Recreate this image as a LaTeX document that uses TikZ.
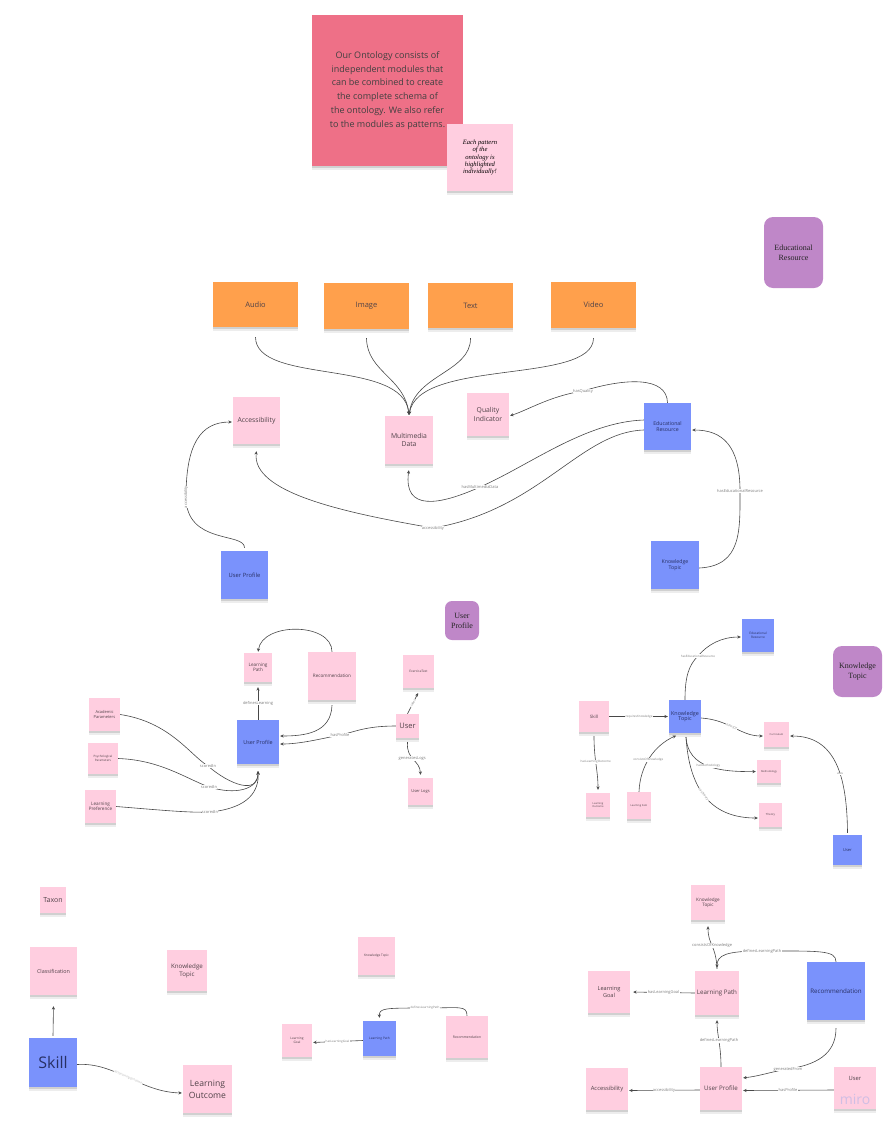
\documentclass[tikz,border=0pt]{standalone}
\usepackage{fontspec}
\setmainfont{Open Sans}
\newfontfamily\serifx{Liberation Serif}
\usetikzlibrary{arrows.meta,shadows}

\definecolor{notepink}{RGB}{255,206,224}
\definecolor{noteblue}{RGB}{122,146,252}
\definecolor{noteorange}{RGB}{255,160,76}
\definecolor{notered}{RGB}{238,112,135}
\definecolor{tagpurple}{RGB}{191,135,200}
\definecolor{inktext}{RGB}{80,66,72}
\definecolor{inkblue}{RGB}{40,48,100}
\definecolor{wire}{RGB}{72,72,72}
\definecolor{wiretext}{RGB}{125,125,125}
\definecolor{wmark}{RGB}{208,190,228}

\newcommand{\fsz}[2]{\fontsize{#1}{#2}\selectfont}

\tikzset{
  sticky/.style={rectangle, inner sep=1pt, align=center, text=inktext,
    drop shadow={shadow xshift=0pt, shadow yshift=-3.5pt, opacity=0.07, fill=black},
    drop shadow={shadow xshift=0pt, shadow yshift=-2pt, opacity=0.12, fill=black}},
  pk/.style={sticky, fill=notepink},
  bl/.style={sticky, fill=noteblue, text=inkblue},
  og/.style={sticky, fill=noteorange, text=inktext},
  sz/.style={minimum width=#1pt, minimum height=#1pt},
  wh/.style 2 args={minimum width=#1pt, minimum height=#2pt},
  tagbox/.style={rectangle, rounded corners=9pt, fill=tagpurple, align=center,
    text=black!85, font={\serifx\fsz{8}{10}}},
  conn/.style={draw=wire, line width=0.6pt, shorten >=1pt,
    -{Stealth[length=3.4pt,width=3.2pt]}},
  lbl/.style={fill=white, inner sep=0.4pt, text=wiretext, font={\fsz{4}{5}}},
  tiny/.style={lbl, font={\fsz{3}{4}}}
}

\begin{document}
\begin{tikzpicture}[x=1pt,y=-1pt]
\useasboundingbox (0,0) rectangle (891,1122);

% ---------- introduction notes ----------
\node[sticky, fill=notered, wh={151}{151}, text=black!75, font={\fsz{9}{13.8}}] (intro) at (387.5,90.5)
  {Our Ontology consists of\\independent modules that\\can be combined to create\\the complete schema of\\the ontology. We also refer\\to the modules as patterns.};
\node[pk, wh={66}{67}, text=black, font={\serifx\itshape\fsz{6.6}{7.4}}] (hint) at (480,157.5)
  {Each pattern\\of the\\ontology is\\highlighted\\individually!};

% ---------- Educational Resource pattern ----------
\node[tagbox, wh={59}{71}] (tagER) at (793.5,252.5) {Educational\\Resource};

\node[og, wh={85}{45}, font={\fsz{7.5}{9}}] (audio) at (255.5,304.5) {Audio};
\node[og, wh={85}{46}, font={\fsz{7.5}{9}}] (image) at (366.5,306) {Image};
\node[og, wh={85}{45}, font={\fsz{7.5}{9}}] (text)  at (470.5,305.5) {Text};
\node[og, wh={85}{46}, font={\fsz{7.5}{9}}] (video) at (593.5,305) {Video};

\node[pk, sz=47, font={\fsz{6.8}{8.5}}] (accA) at (256.5,420.5) {Accessibility};
\node[pk, sz=48, font={\fsz{6.8}{8.5}}] (mmd) at (409,440) {Multimedia\\Data};
\node[pk, wh={42}{43}, font={\fsz{6.8}{8.5}}] (quality) at (488,414.5) {Quality\\Indicator};
\node[bl, sz=47, font={\fsz{5.2}{6.3}}] (erA) at (667.5,426.5) {Educational\\Resource};
\node[bl, sz=48, font={\fsz{5.2}{6.3}}] (ktA) at (675,565) {Knowledge\\Topic};
\node[bl, wh={47}{48}, font={\fsz{5.8}{7}}] (upA) at (244.5,575) {User Profile};

\draw[conn] ([yshift=-10pt]audio.south) .. controls (256,385) and (404,358) .. (mmd.north);
\draw[conn] ([yshift=-9pt]image.south) .. controls (367,372) and (405,378) .. (mmd.north);
\draw[conn] ([yshift=-10pt]text.south) .. controls (471,372) and (414,375) .. (mmd.north);
\draw[conn] ([yshift=-10pt]video.south) .. controls (593,385) and (418,358) .. (mmd.north);

\draw[conn] (erA.north) .. controls (667,376) and (625,378) .. (583,391) node[lbl] (lq) {hasQuality}
  .. controls (550,396) and (528,410) .. ([yshift=-1.5pt]quality.east);
\draw[conn] ([yshift=6.5pt]erA.west) .. controls (585,422) and (530,465) .. (480,487)
  node[lbl] (lmd) {hasMultimediaData}
  .. controls (440,505) and (403,512) .. ([yshift=-5pt]mmd.south);
\draw[conn] ([yshift=-3.5pt]erA.west) .. controls (580,432) and (540,510) .. (433,528)
  node[lbl] (lacc1) {accessibility}
  .. controls (340,512) and (252,492) .. ([yshift=-6pt]accA.south);
\draw[conn] ([yshift=-3pt]ktA.east) .. controls (742,566) and (740,530) .. (740,491)
  node[lbl] (lher) {hasEducationalResource}
  .. controls (740,445) and (722,430) .. ([yshift=-3.5pt]erA.east);
\draw[conn] ([yshift=3pt]upA.north) .. controls (245,532) and (186,545) .. (186,497)
  node[lbl, rotate=90] (lacc2) {accessibility}
  .. controls (186,445) and (200,422) .. ([yshift=-1.5pt]accA.west);

% ---------- User Profile pattern ----------
\node[tagbox, wh={34}{39}, rounded corners=7pt] (tagUP) at (462,620.5) {User\\Profile};

\node[pk, wh={28}{29}, font={\fsz{4.6}{5.6}}] (lpB) at (258,667.5) {Learning\\Path};
\node[pk, sz=48, font={\fsz{4.6}{5.6}}] (recB) at (332,676) {Recommendation};
\node[pk, wh={31}{33}, font={\fsz{3.2}{4}}] (exB) at (418.5,671.5) {ExerciseTest};
\node[pk, wh={23}{24}, font={\fsz{7.5}{9}}] (userB) at (407.5,726) {User};
\node[bl, wh={42}{44}, font={\fsz{5.4}{6.5}}] (upB) at (258,742) {User Profile};
\node[pk, wh={25}{27}, font={\fsz{4}{5}}] (logsB) at (420.5,791.5) {User Logs};
\node[pk, wh={31}{33}, font={\fsz{4}{4.8}}] (acadB) at (104.5,714.5) {Academic\\Parameters};
\node[pk, wh={30}{31}, font={\fsz{3}{3.8}}] (psyB) at (103,758.5) {Psychological\\Parameters};
\node[pk, wh={31}{33}, font={\fsz{4.6}{5.6}}] (prefB) at (100.5,806.5) {Learning\\Preference};

\draw[conn] (recB.north) .. controls (332,622) and (262,622) .. (lpB.north);
\draw[conn] (upB.north) -- node[lbl] (ldl) {definesLearning} ([yshift=-4pt]lpB.south);
\draw[conn] ([yshift=-5pt]recB.south) .. controls (331,733) and (305,736) .. ([yshift=6pt]upB.east);
\draw[conn] (userB.west) .. controls (365,726) and (355,732) .. (340,735) node[lbl] (lhp) {hasProfile}
  .. controls (320,739) and (300,744) .. ([yshift=-2pt]upB.east);
\draw[conn] (userB.north) -- node[tiny, sloped] (ltk) {takes} ([yshift=-4pt]exB.south);
\draw[conn] ([yshift=-4pt]userB.south) .. controls (406,760) and (420,760) ..
  node[lbl, pos=0.45] (lgl) {generatesLogs} ([yshift=2pt]logsB.north);
\draw[conn] (acadB.east) .. controls (170,722) and (190,755) .. (208,766) node[lbl] (ls1) {scoredIn}
  .. controls (230,785) and (258,795) .. ([yshift=-6pt]upB.south);
\draw[conn] (psyB.east) .. controls (160,760) and (185,778) .. (209,787) node[lbl] (ls2) {scoredIn}
  .. controls (235,795) and (258,790) .. ([yshift=-6pt]upB.south);
\draw[conn] (prefB.east) .. controls (160,810) and (190,813) .. (210,812) node[lbl] (ls3) {scoredIn}
  .. controls (250,808) and (259,790) .. ([yshift=-6pt]upB.south);

% ---------- Knowledge Topic pattern ----------
\node[tagbox, wh={49}{51}] (tagKT) at (857.5,671.5) {Knowledge\\Topic};

\node[bl, wh={32}{33}, font={\fsz{3.2}{4}}] (erC) at (758,635.5) {Educational\\Resource};
\node[bl, wh={32}{33}, font={\fsz{5.4}{5.8}}] (ktC) at (685,716.5) {Knowledge\\Topic};
\node[pk, wh={30}{31}, font={\fsz{4.5}{5.5}}] (skillC) at (594,716.5) {Skill};
\node[pk, sz=24, font={\fsz{2.6}{3.3}}] (loC) at (598,805) {Learning\\Outcome};
\node[pk, wh={24}{27}, font={\fsz{2.6}{3.3}}] (liC) at (639,805.5) {Learning Item};
\node[pk, sz=25, font={\fsz{2.6}{3.3}}] (curC) at (776.5,734.5) {Curriculum};
\node[pk, wh={24}{23}, font={\fsz{2.6}{3.3}}] (metC) at (769,771.5) {Methodology};
\node[pk, wh={23}{24}, font={\fsz{2.8}{3.3}}] (thC) at (770.5,815) {Theory};
\node[bl, wh={29}{30}, font={\fsz{4}{5}}] (userC) at (847.5,850) {User};

\draw[conn] (ktC.north) .. controls (685,676) and (689,665) .. (698,656)
  node[tiny] (lher2) {hasEducationalResource}
  .. controls (708,644) and (722,637) .. ([yshift=-1.5pt]erC.west);
\draw[conn] (skillC.east) -- node[tiny] (lrk) {requiresKnowledge} (ktC.west);
\draw[conn] ([yshift=-4pt]skillC.south) .. controls (594,760) and (598,770) ..
  node[tiny, pos=0.45] (lhlo) {hasLearningOutcome} ([yshift=2pt]loC.north);
\draw[conn] (liC.north) .. controls (640,765) and (655,745) ..
  node[tiny, pos=0.45] (lcok) {consistsOfKnowledge} ([xshift=-8pt,yshift=-2pt]ktC.south);
\draw[conn] ([yshift=-1.5pt]ktC.east) .. controls (730,720) and (740,736) ..
  node[tiny, sloped, pos=0.45] (lpo) {isPartOf} ([yshift=-1.5pt]curC.west);
\draw[conn] ([xshift=1pt,yshift=-4pt]ktC.south) .. controls (688,768) and (720,772) ..
  node[tiny, pos=0.5] (lhm) {hasMethodology} (metC.west);
\draw[conn] ([xshift=1pt,yshift=-4pt]ktC.south) .. controls (690,800) and (720,818) ..
  node[tiny, sloped, pos=0.42] (lht) {hasTheory} ([yshift=-3pt]thC.west);
\draw[conn] ([yshift=2pt]userC.north) .. controls (847,775) and (835,736) ..
  node[tiny, pos=0.4] (lus) {uses} ([yshift=-1.5pt]curC.east);

% ---------- Skill pattern ----------
\node[pk, sz=26, font={\fsz{7}{8.5}}] (taxon) at (53,900) {Taxon};
\node[pk, wh={47}{48}, font={\fsz{5.4}{6.5}}] (classD) at (53.5,971) {Classification};
\node[pk, wh={40}{41}, font={\fsz{6.2}{7.8}}] (ktD) at (187,970.5) {Knowledge\\Topic};
\node[bl, wh={48}{49}, font={\fsz{16}{19}}] (skillD) at (53,1062.5) {Skill};
\node[pk, wh={49}{48}, font={\fsz{8.6}{12}}] (loD) at (207.5,1089) {Learning\\Outcome};

\draw[conn] ([yshift=2pt]skillD.north) -- ([yshift=-10pt]classD.south);
\draw[conn] ([yshift=-2pt]skillD.east) .. controls (115,1062) and (140,1092) ..
  node[tiny, sloped, pos=0.5, text=black!30] (lhlo2) {hasLearningOutcome} ([yshift=-4pt]loD.west);

% ---------- Learning Path pattern ----------
\node[pk, wh={37}{38}, font={\fsz{3.2}{4}}] (ktE) at (376.5,956) {Knowledge Topic};
\node[pk, wh={30}{33}, font={\fsz{3.2}{4}}] (lgE) at (297,1040.5) {Learning\\Goal};
\node[bl, wh={33}{35}, font={\fsz{3.2}{4}}] (lpE) at (379.5,1038.5) {Learning Path};
\node[pk, sz=42, font={\fsz{3.4}{4}}] (recE) at (467,1037) {Recommendation};

\draw[conn] (recE.north) .. controls (467,1005) and (460,1008) .. (425,1008)
  node[tiny] (ldlp) {definesLearningPath}
  .. controls (385,1008) and (379,1008) .. ([yshift=2pt]lpE.north);
\draw[conn] ([yshift=-2pt]lpE.west) -- node[tiny] (lhlg) {hasLearningGoal} ([yshift=-2pt]lgE.east);

% ---------- Recommendation pattern ----------
\node[pk, wh={34}{35}, font={\fsz{4.6}{5.4}}] (ktF) at (708,902.5) {Knowledge\\Topic};
\node[pk, sz=42, font={\fsz{5.6}{6.8}}] (lgF) at (609,992) {Learning\\Goal};
\node[pk, sz=44, font={\fsz{6.2}{7.5}}] (lpF) at (717,993) {Learning Path};
\node[bl, sz=58, font={\fsz{6.2}{7.5}}] (recF) at (836,991) {Recommendation};
\node[pk, sz=42, font={\fsz{5.8}{7}}] (accF) at (607,1089) {Accessibility};
\node[pk, wh={42}{43}, font={\fsz{6.2}{7.5}}] (upF) at (721,1088.5) {User Profile};
\node[pk, sz=42] (userF) at (855,1088) {};
\node[font={\fsz{5.8}{7}}, text=inktext] (userFt) at (855,1078) {User};
\node[font={\fsz{14}{16}}, text=wmark] (wm) at (855,1099) {miro};

\draw[conn] ([yshift=2pt]lpF.north) .. controls (716,945) and (708,945) ..
  node[lbl, pos=0.5] (lcok2) {consistsOfKnowledge} ([yshift=-5pt]ktF.south);
\draw[conn] (recF.north) .. controls (836,950) and (820,951) .. (762,951)
  node[lbl] (ldlp2) {definesLearningPath}
  .. controls (726,951) and (717,955) .. ([yshift=2pt]lpF.north);
\draw[conn] (lpF.west) -- node[lbl] (lhlg2) {hasLearningGoal} ([xshift=2pt]lgF.east);
\draw[conn] (upF.north) .. controls (721,1045) and (717,1035) ..
  node[lbl, pos=0.5] (ldlp3) {definesLearningPath} ([yshift=-4pt]lpF.south);
\draw[conn] ([yshift=-8pt]recF.south) .. controls (836,1055) and (815,1065) .. (788,1069)
  node[lbl] (lgf) {generatedFrom}
  .. controls (770,1072) and (760,1076) .. ([yshift=10.5pt]upF.east);
\draw[conn] ([yshift=-1.5pt]upF.west) -- node[lbl] (lacc3) {accessibility} ([yshift=-1.5pt]accF.east);
\draw[conn] ([yshift=-2pt]userF.west) -- node[lbl] (lhp2) {hasProfile} ([yshift=-2pt]upF.east);

\end{tikzpicture}
\end{document}
